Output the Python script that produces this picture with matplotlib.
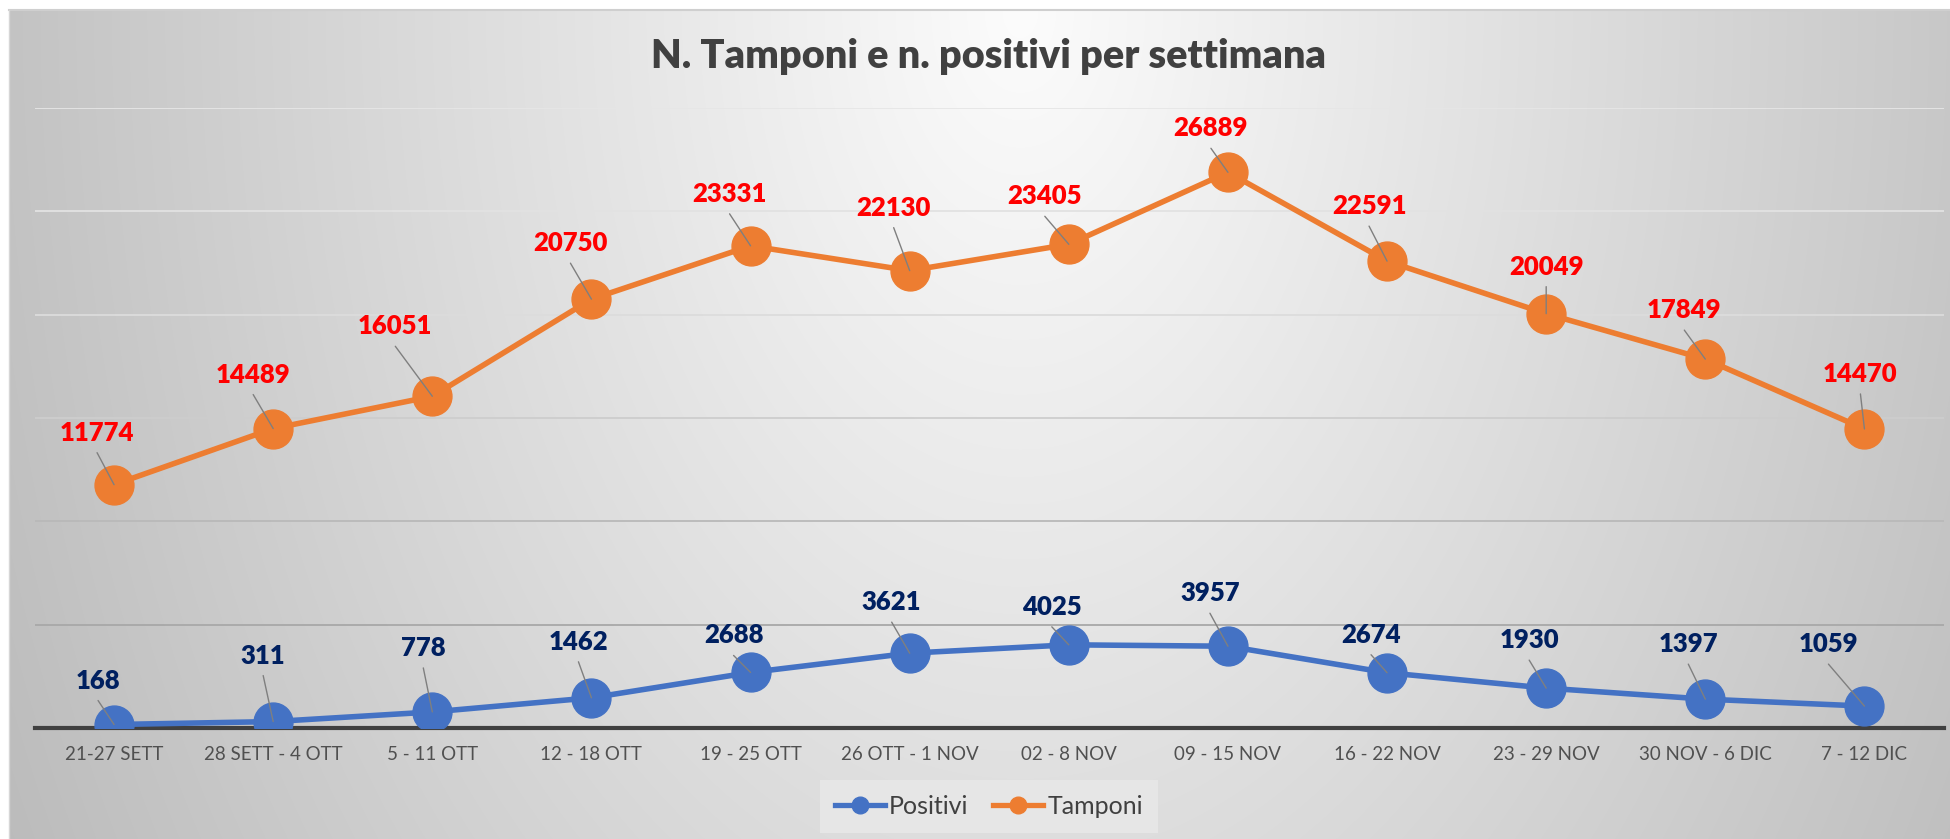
import numpy as np
import matplotlib
matplotlib.use("Agg")
import matplotlib.pyplot as plt
from matplotlib.lines import Line2D

# ---- data ----
categories = ["21-27 SETT", "28 SETT - 4 OTT", "5 - 11 OTT", "12 - 18 OTT", "19 - 25 OTT",
              "26 OTT - 1 NOV", "02 - 8 NOV", "09 - 15 NOV", "16 - 22 NOV", "23 - 29 NOV",
              "30 NOV - 6 DIC", "7 - 12 DIC"]
positivi = [168, 311, 778, 1462, 2688, 3621, 4025, 3957, 2674, 1930, 1397, 1059]
tamponi = [11774, 14489, 16051, 20750, 23331, 22130, 23405, 26889, 22591, 20049, 17849, 14470]
title = "N. Tamponi e n. positivi per settimana"

# label offsets in pixels (dx, dy up) -- styling only
tamp_off = [(-17, 52), (-20, 54), (-37, 70), (-21, 56), (-21, 52), (-16, 63),
            (-24, 48), (-17, 44), (-18, 55), (0, 47), (-21, 49), (-4, 55)]
pos_off = [(-16, 44), (-10, 66), (-9, 64), (-13, 56), (-17, 37), (-18, 51),
           (-17, 38), (-18, 53), (-16, 38), (-17, 48), (-17, 55), (-36, 62)]

W, H = 1950, 839
FONT = ["Lato", "DejaVu Sans"]
plt.rcParams["font.family"] = FONT

fig = plt.figure(figsize=(W / 100, H / 100), dpi=100)

# ---- gradient background ----
bg = fig.add_axes([0, 0, 1, 1], zorder=0)
yy, xx = np.mgrid[0:H, 0:W]
dx = (xx - 1020) / 980.0
dy = (yy - 10) / 830.0
d = np.sqrt(dx ** 2 + (dy * 0.55) ** 2)
v = 252 - 55 * d
v = np.clip(v, 0, 255) / 255.0
img = np.dstack([v, v, v])
mask = (xx < 9) | (yy < 10)
img[mask] = 1.0
bg.imshow(img, extent=[0, W, H, 0], aspect="auto", interpolation="bilinear")
bg.plot([9, W], [10, 10], color="#cfcfcf", lw=1.5)
bg.plot([9, 9], [10, H], color="#d6d6d6", lw=1.0)
bg.set_xlim(0, W)
bg.set_ylim(H, 0)
bg.axis("off")

# ---- main axes ----
left, right, top, bottom = 34.5, 1944, 108, 728
ax = fig.add_axes([left / W, (H - bottom) / H, (right - left) / W, (bottom - top) / H], zorder=1)
ax.set_facecolor("none")
x = np.arange(len(categories))
ax.set_xlim(-0.5, len(categories) - 0.5)
ax.set_ylim(0, 30000)

grid_levels = [5000, 10000, 15000, 20000, 25000, 30000]
grid_cols = ["#a8a8a8", "#b9b9b9", "#cdcdcd", "#dcdcdc", "#e2e2e2", "#e6e6e6"]
for g, c in zip(grid_levels, grid_cols):
    ax.axhline(g, color=c, lw=1.3, zorder=0.5)

for s in ["left", "right", "top"]:
    ax.spines[s].set_visible(False)
ax.spines["bottom"].set_color("#404040")
ax.spines["bottom"].set_linewidth(3.0)
ax.spines["bottom"].set_zorder(1)
ax.set_yticks([])
ax.set_xticks(x)
ax.set_xticklabels(categories, fontsize=13.5, color="#505050")
ax.tick_params(axis="x", length=0, pad=13)

blue, orange = "#4472C4", "#ED7D31"
ax.plot(x, positivi, color=blue, lw=4.0, marker="o", ms=28, mec=blue, mfc=blue,
        zorder=3, solid_capstyle="round", label="Positivi")
ax.plot(x, tamponi, color=orange, lw=4.0, marker="o", ms=28, mec=orange, mfc=orange,
        zorder=3, solid_capstyle="round", label="Tamponi")


def labels(vals, offs, color):
    for i, (val, (ox, oy)) in enumerate(zip(vals, offs)):
        ax.annotate("", xy=(i, val), xytext=(ox, oy - 20), textcoords="offset pixels",
                    arrowprops=dict(arrowstyle="-", color="#7f7f7f", lw=1.0,
                                    shrinkA=0, shrinkB=0), zorder=4)
        ax.annotate(str(val), xy=(i, val), xytext=(ox, oy), textcoords="offset pixels",
                    ha="center", va="center", fontsize=18.5, fontweight="heavy",
                    color=color, zorder=5)


labels(positivi, pos_off, "#002060")
labels(tamponi, tamp_off, "#FF0000")

fig.text(988 / W, 1 - 68 / H, title, ha="center", va="baseline", fontsize=28.5,
         fontweight="heavy", color="#404040")

handles = [Line2D([], [], color=blue, lw=3.8, marker="o", ms=12),
           Line2D([], [], color=orange, lw=3.8, marker="o", ms=12)]
leg = fig.legend(handles, ["Positivi", "Tamponi"], loc="center",
                 bbox_to_anchor=(989 / W, 1 - 806 / H), ncol=2, frameon=True,
                 fontsize=18, handlelength=2.0, handletextpad=0.15, columnspacing=1.0,
                 borderpad=0.6, borderaxespad=0, fancybox=False)
leg.get_frame().set_facecolor("#e6e6e6")
leg.get_frame().set_edgecolor("none")
leg.get_frame().set_alpha(1)
for t in leg.get_texts():
    t.set_color("#404040")

fig.savefig("out.png", dpi=100)
